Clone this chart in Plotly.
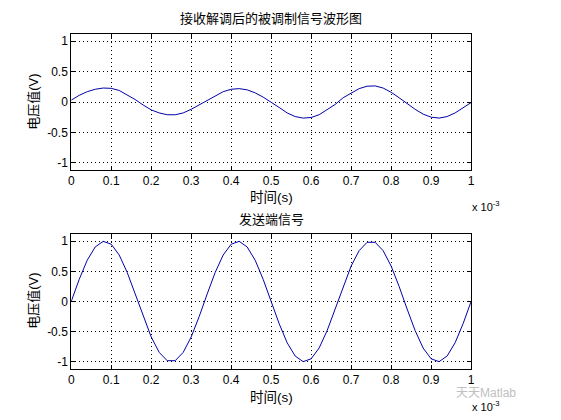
import plotly.graph_objects as go

# time in seconds (0 .. 1e-3), step 0.02 ms
t_ms = [i * 0.02 for i in range(51)]
t = [v * 1e-3 for v in t_ms]

# demodulated signal
demod = [0.03, 0.11, 0.17, 0.21, 0.23, 0.225, 0.19, 0.12, 0.04, -0.05,
         -0.13, -0.18, -0.21, -0.21, -0.18, -0.12, -0.05, 0.03, 0.10, 0.17,
         0.21, 0.22, 0.20, 0.15, 0.08, 0.0, -0.09, -0.18, -0.24, -0.265,
         -0.255, -0.21, -0.13, -0.04, 0.07, 0.15, 0.22, 0.26, 0.265, 0.23,
         0.16, 0.07, -0.03, -0.12, -0.20, -0.25, -0.265, -0.24, -0.18, -0.10,
         -0.01]

# transmitted signal
sent = [0.0, 0.368, 0.685, 0.905, 0.998, 0.951, 0.771, 0.482, 0.125, -0.249,
        -0.588, -0.844, -0.982, -0.982, -0.844, -0.588, -0.249, 0.125, 0.482, 0.771,
        0.951, 0.998, 0.905, 0.685, 0.368, 0.0, -0.368, -0.685, -0.905, -0.998,
        -0.951, -0.771, -0.482, -0.125, 0.249, 0.588, 0.844, 0.982, 0.982, 0.844,
        0.588, 0.249, -0.125, -0.482, -0.771, -0.951, -0.998, -0.905, -0.685, -0.368,
        0.0]

x_tickvals = [i * 1e-4 for i in range(11)]
x_ticktext = ["0", "0.1", "0.2", "0.3", "0.4", "0.5", "0.6", "0.7", "0.8", "0.9", "1"]
y_tickvals = [-1, -0.5, 0, 0.5, 1]
y_ticktext = ["-1", "-0.5", "0", "0.5", "1"]

title1 = "接收解调后的被调制信号波形图"
title2 = "发送端信号"
xlabel = "时间(s)"
ylabel = "电压值(V)"

FONT = "Liberation Sans, Arial, Noto Sans CJK SC, sans-serif"
LINE = "#0000A8"

fig = go.Figure()
fig.add_trace(go.Scatter(x=t, y=demod, mode="lines", line=dict(color=LINE, width=1),
                         xaxis="x", yaxis="y", showlegend=False))
fig.add_trace(go.Scatter(x=t, y=sent, mode="lines", line=dict(color=LINE, width=1),
                         xaxis="x2", yaxis="y2", showlegend=False))

# page has an 8px body margin; work in page pixels and convert
OFF = 8
W, H = 561 - OFF, 420 - OFF

def px(p):
    return (p - OFF) / W

def py(p):
    return 1 - (p - OFF) / H

xd = [px(69), px(474)]
yd1 = [py(170), py(34)]
yd2 = [py(369), py(234)]

def xax(anchor):
    return dict(domain=xd, anchor=anchor, range=[0, 1e-3], tickvals=x_tickvals,
                ticktext=x_ticktext, showline=True, linecolor="black", linewidth=1,
                mirror="ticks", ticks="inside", ticklen=4, tickcolor="black",
                showgrid=True, gridcolor="black", griddash="1px,3px", gridwidth=1,
                zeroline=False, tickfont=dict(size=12, color="black", family=FONT))

def yax(anchor, dom):
    return dict(domain=dom, anchor=anchor, range=[-1.12, 1.12], tickvals=y_tickvals,
                ticktext=y_ticktext, showline=True, linecolor="black", linewidth=1,
                mirror="ticks", ticks="inside", ticklen=4, tickcolor="black",
                showgrid=True, gridcolor="black", griddash="1px,3px", gridwidth=1,
                zeroline=False, tickfont=dict(size=12, color="black", family=FONT))

fig.update_layout(
    width=W, height=H,
    margin=dict(l=0, r=0, t=0, b=0),
    paper_bgcolor="white", plot_bgcolor="white",
    font=dict(family=FONT, color="black", size=12),
    xaxis=xax("y"), yaxis=yax("x", yd1),
    xaxis2=xax("y2"), yaxis2=yax("x2", yd2),
)

ann = []
cx = px((69 + 474) / 2)
ann.append(dict(text=title1, x=cx, y=py(19), xref="paper", yref="paper",
                showarrow=False, font=dict(size=13), xanchor="center", yanchor="middle"))
ann.append(dict(text=title2, x=cx, y=py(219), xref="paper", yref="paper",
                showarrow=False, font=dict(size=13), xanchor="center", yanchor="middle"))
for yc in [py(197), py(397)]:
    ann.append(dict(text=xlabel, x=cx, y=yc, xref="paper", yref="paper",
                    showarrow=False, font=dict(size=13.5), xanchor="center", yanchor="middle"))
for yc in [py(102), py(301)]:
    ann.append(dict(text=ylabel, x=px(30), y=yc, xref="paper", yref="paper", textangle=-90,
                    showarrow=False, font=dict(size=13), xanchor="center", yanchor="middle"))
for yc in [py(206), py(406)]:
    ann.append(dict(text="x 10<sup>-3</sup>", x=px(473), y=yc, xref="paper", yref="paper",
                    showarrow=False, font=dict(size=11), xanchor="left", yanchor="middle"))
ann.append(dict(text="天天Matlab", x=px(521), y=py(393), xref="paper", yref="paper",
                showarrow=False, font=dict(size=12, color="#c0c0c0"), xanchor="right",
                yanchor="middle"))
fig.update_layout(annotations=ann)

fig.write_html("out.html")
